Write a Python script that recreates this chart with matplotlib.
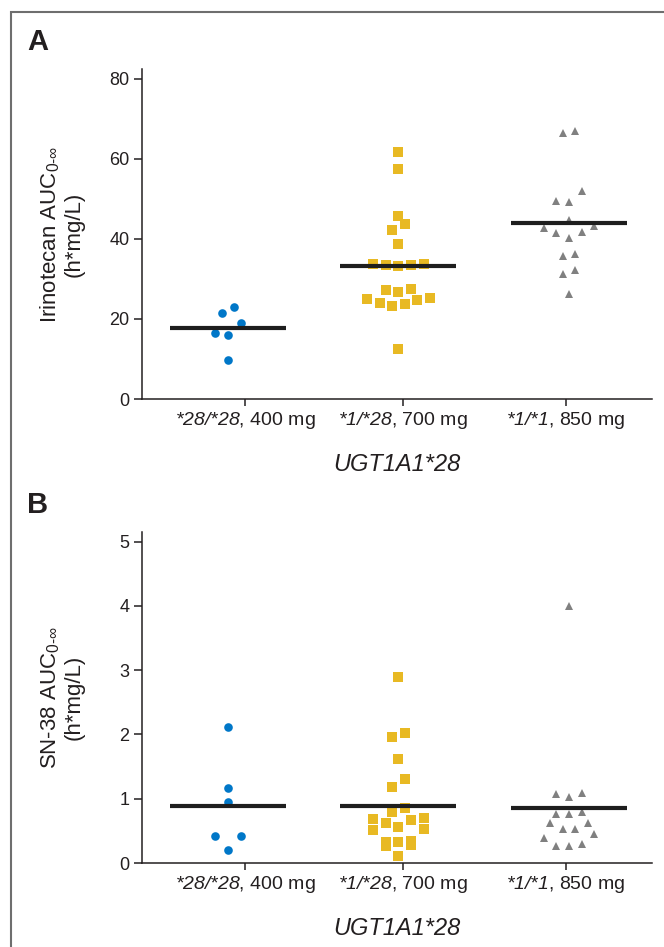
import numpy as np
import matplotlib
matplotlib.use('Agg')
import matplotlib.pyplot as plt
from matplotlib.patches import Rectangle

# ---------------- data ----------------
genotypes = ['*28/*28', '*1/*28', '*1/*1']
doses = ['400 mg', '700 mg', '850 mg']
gene_label = 'UGT1A1*28'

irino_2828 = [22.9, 21.5, 19.0, 16.5, 15.9, 9.7]
irino_128 = [61.6, 57.4, 45.6, 43.8, 42.1, 38.7, 33.7, 33.5, 33.2, 33.5, 33.7,
             27.4, 26.7, 27.2, 25.2, 24.7, 23.7, 23.2, 23.9, 24.9, 12.5]
irino_11 = [66.4, 66.9, 51.9, 49.4, 49.1, 44.6, 42.8, 43.3, 41.5, 41.6, 40.1,
            35.7, 36.2, 32.2, 31.1, 26.3]
irino_means = [17.7, 33.2, 43.9]

sn38_2828 = [2.12, 1.17, 0.95, 0.42, 0.42, 0.21]
sn38_128 = [2.90, 2.03, 1.96, 1.62, 1.31, 1.19, 0.86, 0.80, 0.69, 0.67, 0.70,
            0.63, 0.56, 0.52, 0.53, 0.33, 0.35, 0.28, 0.27, 0.33, 0.11]
sn38_11 = [4.00, 1.07, 1.03, 1.09, 0.79, 0.76, 0.76, 0.63, 0.62, 0.53, 0.53,
           0.45, 0.39, 0.29, 0.26, 0.26]
sn38_means = [0.88, 0.89, 0.85]

yticks_A = [0, 20, 40, 60, 80]
yticks_B = [0, 1, 2, 3, 4, 5]

# ---------------- style ----------------
plt.rcParams['font.family'] = ['Liberation Sans', 'DejaVu Sans']
plt.rcParams['mathtext.fontset'] = 'custom'
plt.rcParams['mathtext.rm'] = 'Liberation Sans'
plt.rcParams['mathtext.it'] = 'Liberation Sans:italic'
plt.rcParams['mathtext.sf'] = 'Liberation Sans:italic'
plt.rcParams['mathtext.bf'] = 'Liberation Sans:bold'

TXT = '#231f20'
colors = ['#0077c8', '#e8b923', '#808080']
markers = ['o', 's', '^']
msizes = [6.2, 6.6, 6.0]

W, H = 664, 947
fig = plt.figure(figsize=(W / 100, H / 100), dpi=100)

# frame around the figure
fig.add_artist(Rectangle((11 / W, -0.05), 1.2, 1.05 - 12 / H, transform=fig.transFigure,
                         fill=False, edgecolor='#6e6e6e', linewidth=1.5, clip_on=False))

pos_x = [0, 1, 2]
tick_x = [0.10, 1.026, 1.982]
xlim = (-0.504, 2.487)


def swarm_offsets(ax, x0, vals, row_px=13.55, slot_px=12.6):
    vals = np.asarray(vals, float)
    ypx = ax.transData.transform(np.column_stack([np.full(len(vals), x0), vals]))[:, 1]
    order = np.argsort(vals, kind='stable')
    rows, cur = [], [order[0]]
    for i in order[1:]:
        if ypx[i] - ypx[cur[0]] < row_px:
            cur.append(i)
        else:
            rows.append(cur)
            cur = [i]
    rows.append(cur)
    p0 = ax.transData.transform((0, 0))[0]
    p1 = ax.transData.transform((1, 0))[0]
    slot = slot_px / (p1 - p0)
    off = np.zeros(len(vals))
    for r in rows:
        n = len(r)
        slots = (np.arange(n) - (n - 1) / 2) * slot
        idx = sorted(range(n), key=lambda k: (abs(slots[k]), slots[k]))
        for j, k in zip(r, idx):
            off[j] = slots[k]
    return off


def panel(rect, series, means, ylim, yticks, ylabel, letter, letter_y):
    ax = fig.add_axes(rect)
    ax.set_xlim(*xlim)
    ax.set_ylim(*ylim)
    for i, vals in enumerate(series):
        off = swarm_offsets(ax, pos_x[i], vals)
        ax.plot(pos_x[i] + off, vals, linestyle='none', marker=markers[i],
                markersize=msizes[i], color=colors[i], markeredgewidth=0,
                zorder=3, clip_on=False)
        ax.hlines(means[i], pos_x[i] - 0.34, pos_x[i] + 0.34, color='#1e1e1e',
                  linewidth=3.0, zorder=4, capstyle='butt')
    for s in ['top', 'right']:
        ax.spines[s].set_visible(False)
    for s in ['left', 'bottom']:
        ax.spines[s].set_linewidth(1.1)
        ax.spines[s].set_color(TXT)
    ax.set_yticks(yticks)
    ax.set_yticklabels([str(v) for v in yticks])
    ax.set_xticks(tick_x)
    labels = [r'$\mathsf{' + g.replace('*', '{*}') + '}$, ' + d
              for g, d in zip(genotypes, doses)]
    ax.set_xticklabels(labels)
    ax.tick_params(axis='y', direction='out', length=5.5, width=1.1, color=TXT,
                   labelsize=13, labelcolor=TXT, pad=3.5)
    ax.tick_params(axis='x', direction='out', length=5, width=1.1, color=TXT,
                   labelsize=14, labelcolor=TXT, pad=3)
    ax.set_xlabel(gene_label, fontsize=17, fontstyle='italic',
                  color=TXT, labelpad=16)
    ax.set_ylabel(ylabel, fontsize=16, color=TXT, linespacing=1.1)
    ax.yaxis.set_label_coords(-0.112, 0.5)
    fig.text(27 / W, 1 - letter_y / H, letter, fontsize=21, fontweight='bold',
             color=TXT, va='baseline', ha='left')
    return ax


L = 142 / W
Wd = (652 - 142) / W
panel([L, (H - 399) / H, Wd, 330 / H],
      [irino_2828, irino_128, irino_11], irino_means, (0, 82.4), yticks_A,
      'Irinotecan AUC$_{0\\text{-}\\infty}$\n(h*mg/L)', 'A', 50)
panel([L, (H - 863) / H, Wd, 331 / H],
      [sn38_2828, sn38_128, sn38_11], sn38_means, (0, 5.15), yticks_B,
      'SN-38 AUC$_{0\\text{-}\\infty}$\n(h*mg/L)', 'B', 513)

fig.savefig('out.png', dpi=100, facecolor='white')
